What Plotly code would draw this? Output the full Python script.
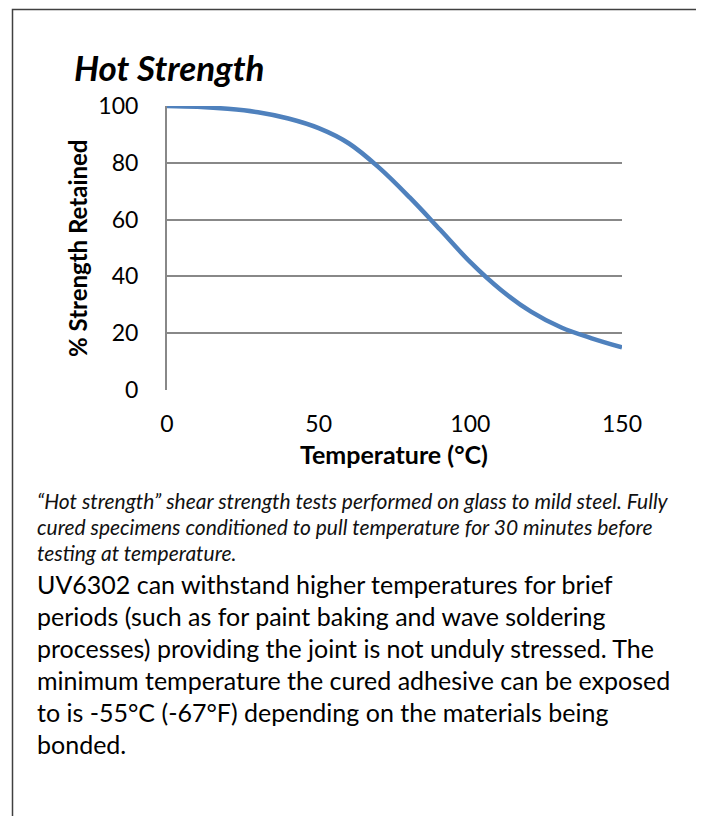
import plotly.graph_objects as go

# ---- data ----
temperature_c = [0, 10, 20, 30, 40, 50, 60, 70, 80, 90, 100, 110, 120, 130, 140, 150]
strength_retained = [100, 99.7, 99.0, 97.8, 95.6, 92.2, 86.8, 78.2, 67.8, 56.5, 45.0, 35.3, 27.6, 22.0, 18.2, 15.0]
x_ticks = [0, 50, 100, 150]
y_ticks = [0, 20, 40, 60, 80, 100]

title_text = "Hot Strength"
x_title = "Temperature (°C)"
y_title = "% Strength Retained"
caption_lines = [
    "“Hot strength” shear strength tests performed on glass to mild steel. Fully",
    "cured specimens conditioned to pull temperature for 30 minutes before",
    "testing at temperature.",
]
body_lines = [
    "UV6302 can withstand higher temperatures for brief",
    "periods (such as for paint baking and wave soldering",
    "processes) providing the joint is not unduly stressed. The",
    "minimum temperature the cured adhesive can be exposed",
    "to is -55°C (-67°F) depending on the materials being",
    "bonded.",
]

# ---- layout geometry (page pixels; the page body has an 8px margin) ----
OFF = 8
W, H = 704 - OFF, 816 - OFF
L, R, T, B = 167, 622, 106, 390
FONT = "Lato"


def px(xp):
    return (xp - L) / (R - L)


def py(yp):
    return 1 - (yp - T) / (B - T)


fig = go.Figure()
fig.add_trace(go.Scatter(
    x=temperature_c, y=strength_retained, mode="lines",
    line=dict(color="#4F81BD", width=4.5, shape="spline", smoothing=1.0),
    hoverinfo="x+y", showlegend=False, cliponaxis=False,
))

fig.update_layout(
    width=W, height=H,
    margin=dict(l=L - OFF, r=(W + OFF) - R, t=T - OFF, b=(H + OFF) - B, autoexpand=False),
    paper_bgcolor="white", plot_bgcolor="white",
    font=dict(family=FONT, color="#000000"),
    showlegend=False,
)
fig.update_xaxes(
    range=[0, 150], tickvals=x_ticks, showgrid=False, zeroline=False,
    showline=False, ticks="", ticklabelstandoff=18,
    tickfont=dict(family=FONT, size=23, color="#000000"),
)
fig.update_yaxes(
    range=[0, 100], tickvals=y_ticks, showgrid=True, gridcolor="#888888",
    gridwidth=2, zeroline=False, showline=True, linecolor="#888888",
    linewidth=2, ticks="", ticklabelstandoff=22,
    tickfont=dict(family=FONT, size=23, color="#000000"),
)

annotations = []
# chart title
annotations.append(dict(
    text=f"<b><i>{title_text}</i></b>", x=px(72), y=py(67), xref="paper", yref="paper",
    xanchor="left", yanchor="middle", showarrow=False,
    font=dict(family=FONT, size=35, color="#000000"),
))
# axis titles
annotations.append(dict(
    text=f"<b>{x_title}</b>", x=px(394), y=py(454), xref="paper", yref="paper",
    xanchor="center", yanchor="middle", showarrow=False,
    font=dict(family=FONT, size=25, color="#000000"),
))
annotations.append(dict(
    text=f"<b>{y_title}</b>", x=px(77), y=py(248), xref="paper", yref="paper",
    xanchor="center", yanchor="middle", showarrow=False, textangle=-90,
    font=dict(family=FONT, size=24, color="#000000"),
))
# caption (italic)
cap_y0, cap_dy = 500, 26
for i, line in enumerate(caption_lines):
    annotations.append(dict(
        text=f"<i>{line}</i>", x=px(35), y=py(cap_y0 + i * cap_dy), xref="paper", yref="paper",
        xanchor="left", yanchor="middle", showarrow=False,
        font=dict(family=FONT, size=21, color="#111111"),
    ))
# body text
body_y0, body_dy = 584, 32
for i, line in enumerate(body_lines):
    annotations.append(dict(
        text=line, x=px(35), y=py(body_y0 + i * body_dy), xref="paper", yref="paper",
        xanchor="left", yanchor="middle", showarrow=False,
        font=dict(family=FONT, size=25, color="#000000"),
    ))
fig.update_layout(annotations=annotations)

# outer frame (open at the bottom, extends past the page)
fig.add_shape(type="rect", xref="paper", yref="paper",
              x0=px(12.5), x1=px(701.5), y0=py(900), y1=py(9.5),
              line=dict(color="#404040", width=1.5), fillcolor="rgba(0,0,0,0)", layer="below")

fig.write_html("out.html")
